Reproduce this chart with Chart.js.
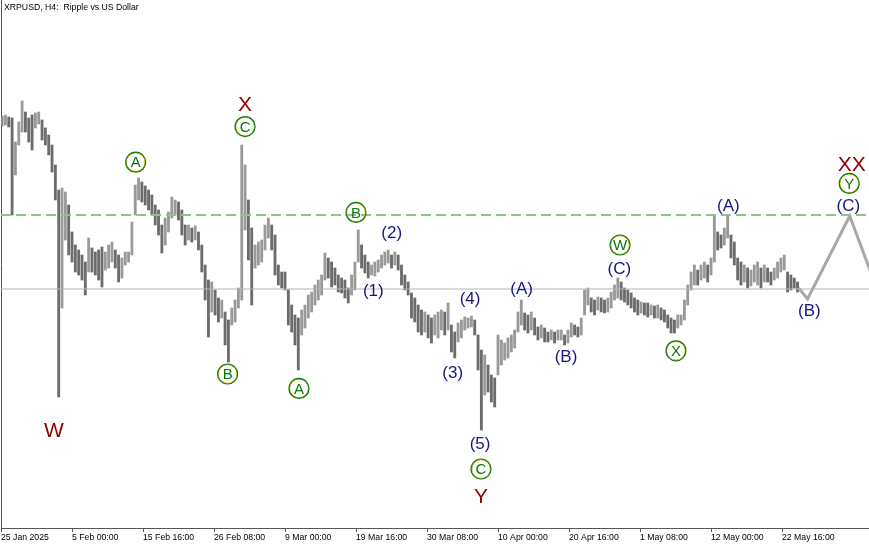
<!DOCTYPE html>
<html>
<head>
<meta charset="utf-8">
<script src="https://cdn.jsdelivr.net/npm/chart.js@4.4.1/dist/chart.umd.min.js"></script>
<style>
html, body { margin: 0; padding: 0; background: #fff; }
</style>
</head>
<body>
<canvas id="grafico" width="869" height="545"></canvas>
<script>
// XRPUSD H4, one entry = 12h (3 bars), high and low of each group
const highs = [
    3.180, 3.185, 3.175, 3.170, 3.050, 3.150, 3.255, 3.200, 3.170, 3.185,
    3.195, 3.200, 3.160, 3.120, 3.085, 3.035, 2.935, 2.810, 2.820, 2.800,
    2.735, 2.600, 2.535, 2.510, 2.485, 2.450, 2.570, 2.520, 2.500, 2.510,
    2.525, 2.500, 2.535, 2.550, 2.510, 2.485, 2.470, 2.500, 2.500, 2.650,
    2.835, 2.870, 2.850, 2.830, 2.810, 2.785, 2.735, 2.710, 2.635, 2.670,
    2.700, 2.775, 2.760, 2.750, 2.710, 2.635, 2.635, 2.620, 2.630, 2.600,
    2.535, 2.435, 2.360, 2.350, 2.310, 2.270, 2.260, 2.200, 2.160, 2.220,
    2.260, 2.320, 3.035, 2.935, 2.760, 2.620, 2.535, 2.550, 2.560, 2.635,
    2.670, 2.635, 2.585, 2.435, 2.400, 2.400, 2.310, 2.235, 2.185, 2.170,
    2.210, 2.235, 2.285, 2.300, 2.335, 2.360, 2.385, 2.495, 2.470, 2.450,
    2.420, 2.385, 2.370, 2.360, 2.320, 2.385, 2.450, 2.610, 2.535, 2.485,
    2.450, 2.435, 2.450, 2.460, 2.485, 2.500, 2.510, 2.485, 2.500, 2.485,
    2.435, 2.385, 2.350, 2.295, 2.270, 2.235, 2.210, 2.200, 2.185, 2.170,
    2.185, 2.200, 2.210, 2.200, 2.245, 2.135, 2.100, 2.145, 2.160, 2.175,
    2.170, 2.180, 2.160, 2.085, 2.010, 1.985, 1.935, 1.885, 1.870, 2.085,
    2.060, 2.045, 2.070, 2.085, 2.110, 2.200, 2.260, 2.195, 2.185, 2.200,
    2.170, 2.125, 2.135, 2.120, 2.100, 2.110, 2.100, 2.110, 2.110, 2.085,
    2.110, 2.145, 2.135, 2.125, 2.170, 2.310, 2.320, 2.270, 2.260, 2.275,
    2.270, 2.260, 2.270, 2.300, 2.335, 2.370, 2.350, 2.320, 2.310, 2.295,
    2.270, 2.260, 2.250, 2.245, 2.245, 2.235, 2.230, 2.235, 2.220, 2.210,
    2.185, 2.170, 2.160, 2.185, 2.185, 2.260, 2.335, 2.400, 2.435, 2.410,
    2.435, 2.450, 2.435, 2.470, 2.685, 2.600, 2.585, 2.620, 2.685, 2.585,
    2.550, 2.470, 2.450, 2.435, 2.420, 2.410, 2.435, 2.450, 2.420, 2.435,
    2.420, 2.400, 2.420, 2.450, 2.470, 2.485, 2.400, 2.385, 2.370, 2.350
]
const lows = [
    3.130, 3.135, 3.125, 2.685, 2.885, 3.035, 3.100, 3.100, 3.050, 3.010,
    3.120, 3.140, 3.060, 3.035, 2.985, 2.900, 2.760, 1.775, 2.220, 2.560,
    2.485, 2.450, 2.400, 2.385, 2.360, 2.285, 2.400, 2.400, 2.385, 2.360,
    2.325, 2.410, 2.420, 2.450, 2.420, 2.350, 2.370, 2.435, 2.450, 2.485,
    2.685, 2.760, 2.750, 2.735, 2.710, 2.685, 2.635, 2.585, 2.495, 2.535,
    2.600, 2.670, 2.685, 2.660, 2.585, 2.535, 2.560, 2.550, 2.560, 2.510,
    2.400, 2.260, 2.075, 2.200, 2.185, 2.150, 2.170, 2.035, 1.950, 2.135,
    2.150, 2.220, 2.260, 2.610, 2.460, 2.235, 2.420, 2.435, 2.450, 2.510,
    2.570, 2.510, 2.385, 2.335, 2.320, 2.310, 2.135, 2.100, 2.035, 1.910,
    2.085, 2.120, 2.170, 2.200, 2.235, 2.260, 2.285, 2.360, 2.370, 2.325,
    2.335, 2.300, 2.295, 2.270, 2.245, 2.285, 2.310, 2.450, 2.420, 2.395,
    2.370, 2.385, 2.380, 2.400, 2.420, 2.435, 2.445, 2.420, 2.435, 2.410,
    2.335, 2.310, 2.285, 2.170, 2.150, 2.100, 2.085, 2.100, 2.070, 2.045,
    2.085, 2.070, 2.110, 2.085, 2.110, 2.000, 1.970, 2.050, 2.070, 2.110,
    2.120, 2.125, 2.085, 1.910, 1.610, 1.785, 1.800, 1.750, 1.725, 1.885,
    1.935, 1.960, 1.970, 2.000, 2.020, 2.100, 2.135, 2.110, 2.095, 2.110,
    2.085, 2.060, 2.070, 2.050, 2.050, 2.060, 2.045, 2.060, 2.060, 2.035,
    2.045, 2.075, 2.085, 2.075, 2.085, 2.185, 2.235, 2.200, 2.185, 2.210,
    2.200, 2.195, 2.200, 2.220, 2.260, 2.270, 2.260, 2.250, 2.235, 2.220,
    2.200, 2.185, 2.195, 2.185, 2.175, 2.185, 2.170, 2.170, 2.160, 2.150,
    2.120, 2.095, 2.095, 2.120, 2.135, 2.160, 2.235, 2.310, 2.335, 2.335,
    2.360, 2.370, 2.350, 2.385, 2.450, 2.510, 2.520, 2.535, 2.570, 2.470,
    2.435, 2.360, 2.335, 2.350, 2.320, 2.330, 2.350, 2.335, 2.320, 2.350,
    2.350, 2.335, 2.360, 2.370, 2.400, 2.410, 2.300, 2.310, 2.320, 2.300
]

// time axis: bar index (H4) of each tick and its text
const tickBars = [0, 64, 128, 192, 256, 320, 384, 448, 512, 576, 640, 704]
const tickLabels = ['25 Jan 2025', '5 Feb 00:00', '15 Feb 16:00', '26 Feb 08:00', '9 Mar 00:00', '19 Mar 16:00',
    '30 Mar 08:00', '10 Apr 00:00', '20 Apr 16:00', '1 May 08:00', '12 May 00:00', '22 May 16:00']

// levels and projected path
const dashLevel = 2.685
const baseLevel = 2.315
const projBars = [719, 727, 765, 790]
const projPrices = [2.32, 2.265, 2.68, 2.31]

// wave marks
const waveText = ['X', 'C', 'A', 'B', 'A', 'B', 'W', '(2)', '(1)', '(4)', '(3)', '(5)', 'C', 'Y',
    '(A)', '(B)', 'W', '(C)', 'X', '(A)', '(B)', 'XX', 'Y', '(C)']
const waveKind = ['red', 'circle', 'circle', 'circle', 'circle', 'circle', 'red', 'blue', 'blue', 'blue', 'blue', 'blue', 'circle', 'red',
    'blue', 'blue', 'circle', 'blue', 'circle', 'blue', 'blue', 'red', 'circle', 'blue']
const waveBar = [220, 220, 121.4, 204.3, 268.6, 320, 47.8, 352.2, 335.6, 422.8, 407.2, 431.8, 432.7, 432.7,
    469.3, 509.3, 558, 557.4, 608.4, 655.6, 728.6, 766.8, 764.6, 763.8]
const wavePrice = [3.24, 3.127, 2.949, 1.89, 1.818, 2.698, 1.61, 2.597, 2.31, 2.268, 1.897, 1.545, 1.415, 1.28,
    2.318, 1.98, 2.535, 2.418, 2.006, 2.735, 2.21, 2.94, 2.843, 2.735]

const ctx = document.getElementById('grafico').getContext('2d')

const barras = highs.map((h, k) => ({ x: 3 * k + 1, y: [lows[k], h] }))

const marcas = {
    id: 'marcas',
    afterDatasetsDraw(chart) {
        const c = chart.ctx
        const xs = chart.scales.x
        const ys = chart.scales.y
        c.save()
        c.textAlign = 'left'
        c.textBaseline = 'middle'
        c.fillStyle = '#000'
        c.font = '8.7px "Liberation Sans", Arial, sans-serif'
        c.fillText('XRPUSD, H4:  Ripple vs US Dollar', 4, 8)

        c.textAlign = 'center'
        waveText.forEach((t, i) => {
            const px = xs.getPixelForValue(waveBar[i])
            const py = ys.getPixelForValue(wavePrice[i])
            if (waveKind[i] === 'red') {
                c.fillStyle = '#8b0000'
                c.font = '21px "Liberation Sans", Arial, sans-serif'
                c.fillText(t, px, py + 1)
            } else if (waveKind[i] === 'blue') {
                c.fillStyle = '#16167e'
                c.font = '17px "Liberation Sans", Arial, sans-serif'
                c.fillText(t, px, py + 1)
            } else {
                c.beginPath()
                c.arc(px, py, 9.3, 0, Math.PI * 2)
                c.strokeStyle = '#c9c200'
                c.lineWidth = 1
                c.stroke()
                c.beginPath()
                c.arc(px, py, 10, 0, Math.PI * 2)
                c.strokeStyle = '#127a12'
                c.lineWidth = 1.2
                c.stroke()
                c.fillStyle = '#0d750d'
                c.font = '15px "Liberation Sans", Arial, sans-serif'
                c.fillText(t, px, py + 1)
            }
        })
        c.restore()
    }
}

new Chart(ctx, {
    type: 'bar',
    data: {
        datasets: [
            {
                type: 'line',
                data: [{ x: 0, y: dashLevel }, { x: 782.4, y: dashLevel }],
                borderColor: '#8fc28f',
                borderWidth: 2,
                borderDash: [10, 5],
                pointRadius: 0,
                order: 1
            },
            {
                type: 'line',
                data: [{ x: 0, y: baseLevel }, { x: 782.4, y: baseLevel }],
                borderColor: '#b4b4b4',
                borderWidth: 1,
                pointRadius: 0,
                order: 1
            },
            {
                type: 'line',
                data: projBars.map((b, i) => ({ x: b, y: projPrices[i] })),
                borderColor: '#a8a8a8',
                borderWidth: 3,
                pointRadius: 0,
                order: 1
            },
            {
                label: 'XRPUSD',
                data: barras,
                barThickness: 2.2,
                backgroundColor: c => {
                    const k = c.dataIndex
                    if (k === 0) return '#8a8a8a'
                    const m = highs[k] + lows[k]
                    const p = highs[k - 1] + lows[k - 1]
                    return m >= p ? '#9a9a9a' : '#6c6c6c'
                },
                borderWidth: 0,
                order: 2
            }
        ]
    },
    options: {
        responsive: false,
        animation: false,
        layout: { padding: 0 },
        plugins: {
            legend: { display: false },
            tooltip: { enabled: false }
        },
        scales: {
            x: {
                type: 'linear',
                min: 0,
                max: 782.4,
                offset: false,
                afterBuildTicks: scale => { scale.ticks = tickBars.map(v => ({ value: v })) },
                afterFit: scale => { scale.height = 17 },
                grid: { drawOnChartArea: false, drawTicks: true, tickLength: 4, color: '#555', offset: false },
                border: { display: true, color: '#555', width: 1 },
                ticks: {
                    autoSkip: false,
                    maxRotation: 0,
                    align: 'start',
                    padding: 0,
                    color: '#000',
                    font: { family: '"Liberation Sans", Arial, sans-serif', size: 8.7 },
                    callback: (v, i) => tickLabels[i]
                }
            },
            y: {
                min: 1.12,
                max: 3.76,
                afterFit: scale => { scale.width = 1 },
                grid: { display: false, drawTicks: false },
                border: { display: true, color: '#555', width: 1 },
                ticks: { display: false }
            }
        }
    },
    plugins: [marcas]
})
</script>
</body>
</html>
